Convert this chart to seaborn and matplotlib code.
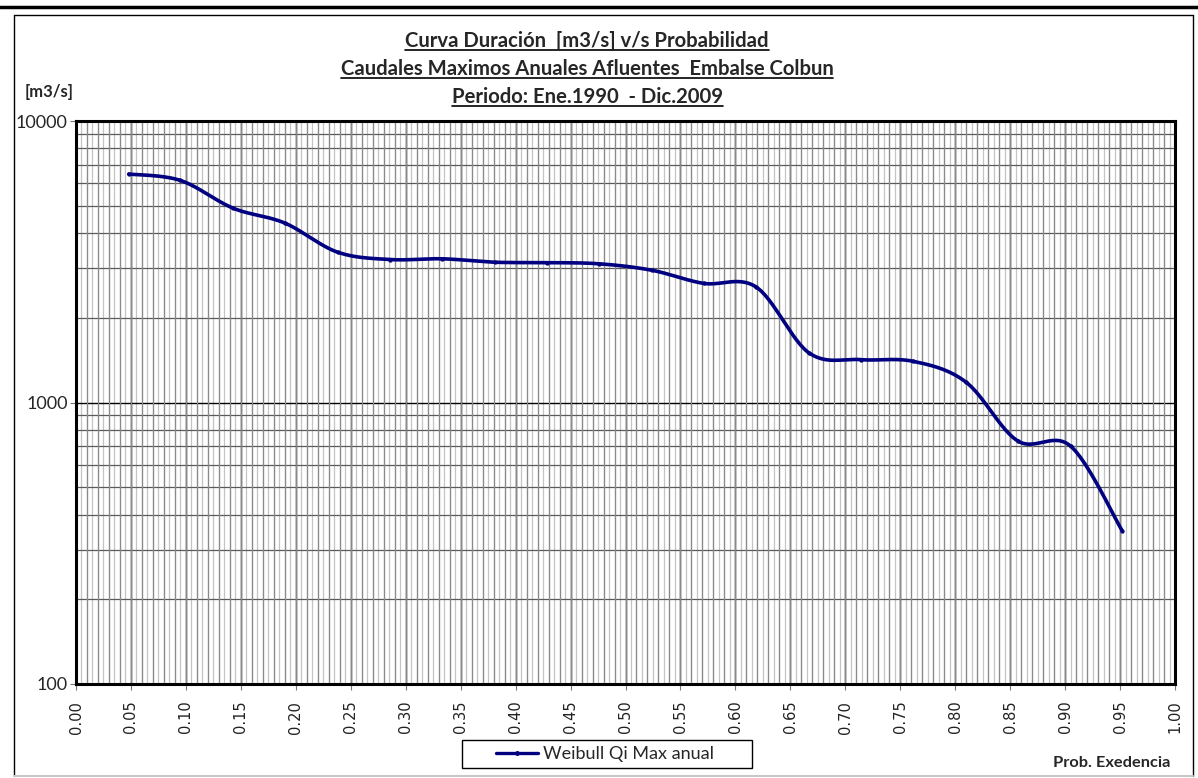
import numpy as np
import pandas as pd
import seaborn as sns
import matplotlib.pyplot as plt
from matplotlib.lines import Line2D
from matplotlib.patches import Rectangle
from matplotlib.ticker import MultipleLocator, FixedLocator, NullFormatter

sns.set_style('white')
plt.rcParams['font.family'] = ['Lato', 'DejaVu Sans']

# Weibull plotting position vs annual max inflow [m3/s]
prob = [0.048, 0.095, 0.143, 0.190, 0.238, 0.286, 0.333, 0.381, 0.429, 0.476,
        0.524, 0.571, 0.619, 0.667, 0.714, 0.762, 0.810, 0.857, 0.905, 0.952]
caudal = [6480, 6150, 4900, 4340, 3420, 3220, 3240, 3150, 3140, 3110,
          2950, 2650, 2570, 1500, 1420, 1400, 1180, 730, 700, 350]

xticks = [round(0.05 * i, 2) for i in range(21)]
yticks = [100, 1000, 10000]

df = pd.DataFrame({'prob': prob, 'caudal': caudal})

# smoothed line (Catmull-Rom in x / log10(y), like a spreadsheet "smoothed line")
px = df['prob'].to_numpy()
py = np.log10(df['caudal'].to_numpy())
P = np.column_stack([px, py])
P = np.vstack([P[0], P, P[-1]])
seg = []
t = np.linspace(0, 1, 30)[:, None]
for i in range(1, len(P) - 2):
    p0, p1, p2, p3 = P[i - 1], P[i], P[i + 1], P[i + 2]
    c = 0.5 * (2 * p1 + (-p0 + p2) * t + (2 * p0 - 5 * p1 + 4 * p2 - p3) * t ** 2
               + (-p0 + 3 * p1 - 3 * p2 + p3) * t ** 3)
    seg.append(c)
curve = np.vstack(seg)
smooth = pd.DataFrame({'prob': curve[:, 0], 'caudal': 10 ** curve[:, 1]})

fig = plt.figure(figsize=(11.98, 7.78), dpi=100)
W, H = 1198, 778
ax = fig.add_axes([76 / W, 1 - 684 / H, (1175 - 76) / W, (684 - 121) / H])

ax.set_yscale('log')
ax.set_xlim(0, 1)
ax.set_ylim(100, 10000)

# grid
ax.xaxis.set_major_locator(FixedLocator(xticks))
ax.xaxis.set_minor_locator(MultipleLocator(0.005))
ax.yaxis.set_major_locator(FixedLocator(yticks))
ax.yaxis.set_minor_locator(FixedLocator([m * d for d in (100, 1000) for m in range(2, 10)]))
ax.yaxis.set_minor_formatter(NullFormatter())
ax.grid(which='minor', axis='x', color='#c4c4c4', lw=0.9)
ax.vlines(np.arange(0.01, 1.0, 0.01), 100, 10000, color='#8a8a8a', lw=0.9, zorder=0.6)
ax.grid(which='minor', axis='y', color='#5a5a5a', lw=0.9)
ax.grid(which='major', color='black', lw=1.0)
ax.set_axisbelow(True)

sns.lineplot(data=smooth, x='prob', y='caudal', sort=False, color='#000080',
             lw=2.6, ax=ax, zorder=3)
sns.scatterplot(data=df, x='prob', y='caudal', marker='o', s=8, color='#000080',
                edgecolor='#000080', ax=ax, zorder=4)

ax.set_xlabel('')
ax.set_ylabel('')
ax.set_xticklabels([f'{v:.2f}' for v in xticks], rotation=90,
                   fontsize=10.5, family='DejaVu Sans', color='#222222')
ax.set_yticklabels([str(v) for v in yticks], fontsize=13)
ax.tick_params(axis='both', which='major', length=4, width=0.8, direction='out',
               bottom=True, left=True, color='#777777', pad=2)
ax.tick_params(axis='x', which='major', pad=8)
ax.tick_params(which='minor', length=0)
for s in ax.spines.values():
    s.set_color('black')
    s.set_linewidth(2.2)
    s.set_zorder(5)

# titles
titles = ['Curva Duración  [m3/s] v/s Probabilidad',
          'Caudales Maximos Anuales Afluentes  Embalse Colbun',
          'Periodo: Ene.1990  - Dic.2009']
tys = [41, 69, 97]
txts = []
for s, yy in zip(titles, tys):
    txts.append(fig.text(587 / W, 1 - yy / H, s, ha='center', va='center',
                         fontsize=14.6, fontweight='bold'))
fig.text(25 / W, 1 - 92 / H, '[m3/s]', ha='left', va='center', fontsize=12,
         fontweight='bold')
fig.text(1170 / W, 1 - 763 / H, 'Prob. Exedencia', ha='right', va='center',
         fontsize=11.8, fontweight='bold')

# legend
h = Line2D([], [], color='#000080', lw=2.4, marker='o', ms=2.5)
leg = fig.legend([h], ['Weibull Qi Max anual'], loc='center left',
                 bbox_to_anchor=(496 / W, 1 - 754 / H), fontsize=13,
                 frameon=False, handlelength=2.3, borderpad=0,
                 borderaxespad=0, handletextpad=0.3)
fig.add_artist(Rectangle((462 / W, 1 - 768 / H), (752 - 462) / W, (768 - 740) / H,
                         transform=fig.transFigure, fill=False, lw=1.0,
                         edgecolor='black'))

# frames around the chart
fr = dict(transform=fig.transFigure, color='black', lw=1.0)
x0, x1, y0, y1 = 14 / W, 1193 / W, 1 - 776 / H, 1 - 15 / H
fig.add_artist(Line2D([x0, x0], [y0, y1], **fr))
fig.add_artist(Line2D([x1, x1], [y0, y1], **fr))
fig.add_artist(Line2D([x0, x1], [y1, y1], **fr))
fig.add_artist(Line2D([x0, x1], [y0, y0], transform=fig.transFigure,
                      color='#c8c8c8', lw=1.5))
fig.add_artist(Line2D([0, 1], [1 - 7 / H, 1 - 7 / H], transform=fig.transFigure,
                      color='black', lw=2.5))

# underline titles
fig.canvas.draw()
r = fig.canvas.get_renderer()
for tx in txts:
    bb = tx.get_window_extent(r)
    yline = bb.y0 + 1
    fig.add_artist(Line2D([bb.x0 / W, bb.x1 / W], [yline / H, yline / H],
                          transform=fig.transFigure, color='black', lw=1.2))

fig.savefig('out.png', dpi=100)
